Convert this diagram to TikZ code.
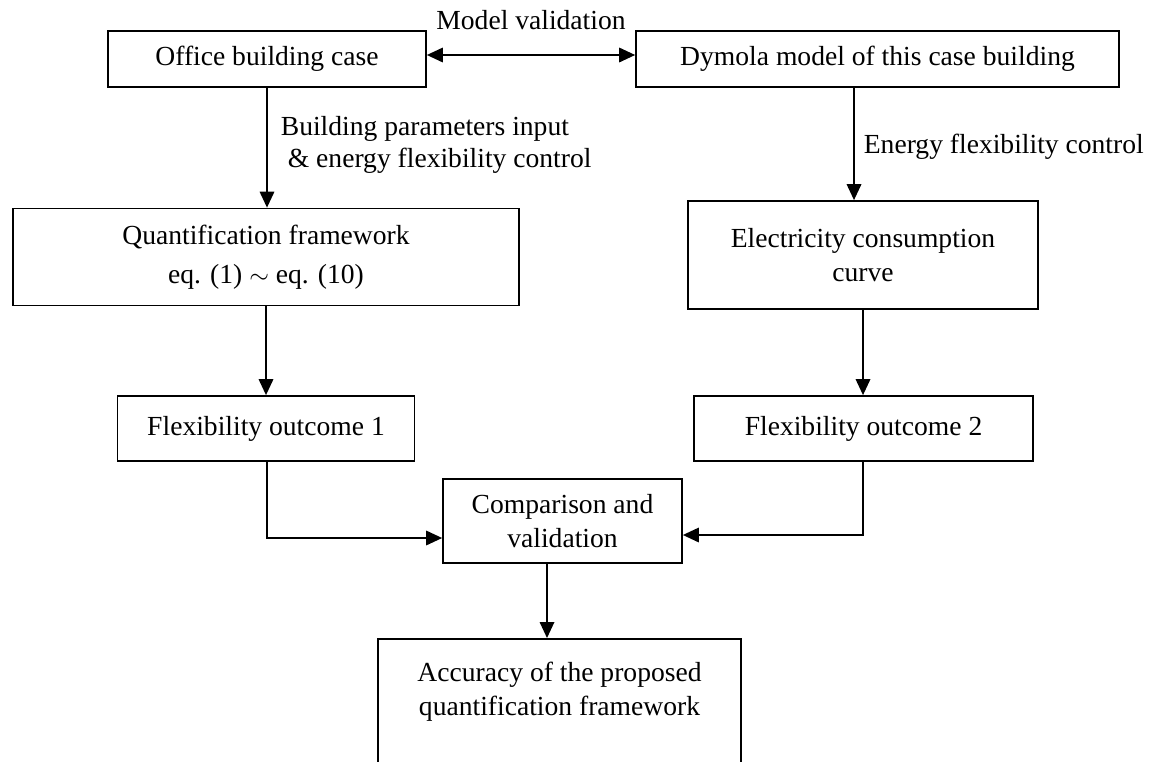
\documentclass[tikz,border=0pt]{standalone}
\usepackage{fontspec}
\setmainfont{Liberation Serif}
\usetikzlibrary{arrows.meta}

\begin{document}
\begin{tikzpicture}[x=0.02cm, y=-0.02cm,
    every node/.style={font=\fontsize{15.7}{19.5}\selectfont},
    box/.style={draw, line width=1pt, align=center, inner sep=0pt},
    lbl/.style={inner sep=0pt, align=left},
    arr/.style={line width=1pt, -{Triangle[length=0.32cm,width=0.29cm]}},
    dblarr/.style={line width=1pt, {Triangle[length=0.32cm,width=0.29cm]}-{Triangle[length=0.32cm,width=0.29cm]}}]

    % Page frame
    \useasboundingbox (0,0) rectangle (1151,761);
    \clip (0,0) rectangle (1151,761);

    % Top row
    \node[box, minimum width=6.36cm, minimum height=1.12cm] (office) at (267,59) {Office building case};
    \node[box, minimum width=9.66cm, minimum height=1.12cm] (dymola) at (877.5,59) {Dymola model of this case building};

    % Second row
    \node[box, minimum width=10.12cm, minimum height=1.94cm,
          font=\fontsize{15.7}{22.5}\selectfont] (quant) at (266,257)
          {Quantification framework\\eq. (1) $\sim$ eq. (10)};
    \node[box, minimum width=7cm, minimum height=2.16cm] (elec) at (863,255)
          {Electricity consumption\\curve};

    % Outcomes
    \node[box, minimum width=5.94cm, minimum height=1.3cm] (flexA) at (266,428.5) {Flexibility outcome 1};
    \node[box, minimum width=6.78cm, minimum height=1.3cm] (flexB) at (863.5,428.5) {Flexibility outcome 2};

    % Comparison and result
    \node[box, minimum width=4.78cm, minimum height=1.68cm] (comp) at (562.5,521)
          {Comparison and\\validation};
    \node[box, anchor=north, minimum width=7.26cm, minimum height=4cm] (acc) at (559.5,638) {};
    \node[align=center] (acctext) at (559.5,692)
          {Accuracy of the proposed\\quantification framework};

    % Connectors
    \draw[dblarr] ([yshift=0.08cm]office.east) -- ([yshift=0.08cm]dymola.west)
        node[midway, yshift=0.7cm] {Model validation};
    \draw[arr] (office.south) -- (office.south |- quant.north)
        node[lbl, midway, anchor=west, xshift=0.26cm, yshift=0.06cm,
             font=\fontsize{15.7}{18.2}\selectfont]
        {Building parameters input\\\hspace*{0.14cm}\& energy flexibility control};
    \draw[arr] ([xshift=-0.18cm]elec.north |- dymola.south) -- ([xshift=-0.18cm]elec.north)
        node[lbl, midway, anchor=west, xshift=0.18cm, yshift=-0.06cm] {Energy flexibility control};
    \draw[arr] (quant.south) -- (quant.south |- flexA.north);
    \draw[arr] (elec.south) -- (elec.south |- flexB.north);
    \draw[arr] ([xshift=0.02cm]flexA.south) |- ([yshift=-0.34cm]comp.west);
    \draw[arr] ([xshift=-0.01cm]flexB.south) |- ([yshift=-0.28cm]comp.east);
    \draw[arr] ([xshift=-0.31cm]comp.south) -- ([xshift=-0.31cm]comp.south |- acc.north);

\end{tikzpicture}
\end{document}
